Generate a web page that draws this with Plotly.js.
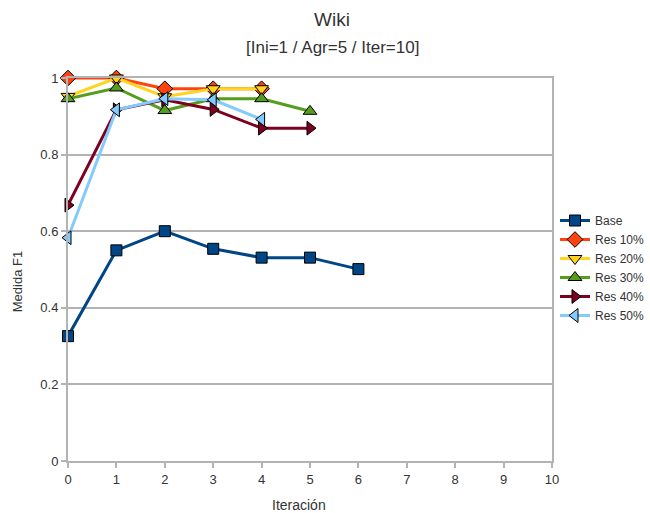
<!DOCTYPE html>
<html>
<head>
<meta charset="utf-8">
<script src="https://cdn.plot.ly/plotly-3.0.1.min.js"></script>
<style>
  html, body { margin: 0; padding: 0; background: #fff; }
  #chart { width: 650px; height: 513px; }
</style>
</head>
<body>
<div id="chart"></div>
<script>
// F1 per iteration for the base run and each reserve percentage
const iterBase = [0, 1, 2, 3, 4, 5, 6];
const base     = [0.326, 0.550, 0.600, 0.554, 0.531, 0.531, 0.501];

const iter10 = [0, 1, 2, 3, 4];
const res10  = [1.0, 1.0, 0.972, 0.972, 0.972];

const iter20 = [0, 1, 2, 3, 4];
const res20  = [0.952, 1.0, 0.951, 0.972, 0.972];

const iter30 = [0, 1, 2, 3, 4, 5];
const res30  = [0.946, 0.974, 0.915, 0.946, 0.946, 0.913];

const iter40 = [0, 1, 2, 3, 4, 5];
const res40  = [0.668, 0.917, 0.943, 0.918, 0.869, 0.869];

const iter50 = [0, 1, 2, 3, 4];
const res50  = [0.583, 0.917, 0.946, 0.943, 0.892];

const xTicks = [0, 1, 2, 3, 4, 5, 6, 7, 8, 9, 10];
const yTicks = [0, 0.2, 0.4, 0.6, 0.8, 1];

const W = 650, H = 513;
const M = { l: 68, r: 98, t: 77.5, b: 52 };
const plotW = W - M.l - M.r, plotH = H - M.t - M.b;

function series(name, x, y, color, symbol, size) {
  return {
    type: 'scatter', mode: 'lines+markers', name: name, x: x, y: y,
    line: { color: color, width: 3 },
    marker: { color: color, symbol: symbol, size: size,
              line: { color: '#000', width: 1 } },
    cliponaxis: false
  };
}

const data = [
  series('Base',    iterBase, base,  '#004586', 'square',         11),
  series('Res 10%', iter10,   res10, '#ff420e', 'diamond',        12),
  series('Res 20%', iter20,   res20, '#ffd320', 'triangle-down',  12),
  series('Res 30%', iter30,   res30, '#579d1c', 'triangle-up',    12),
  series('Res 40%', iter40,   res40, '#7e0021', 'triangle-right', 12),
  series('Res 50%', iter50,   res50, '#83caff', 'triangle-left',  12)
];

const txt = '#333';

const layout = {
  width: W, height: H,
  paper_bgcolor: '#fff', plot_bgcolor: '#fff',
  font: { family: '"Liberation Sans", Arial, sans-serif', size: 12, color: txt },
  margin: M,
  title: { text: 'Wiki', x: 332 / W, xanchor: 'center', xref: 'container',
           y: 1 - 19 / H, yref: 'container', yanchor: 'middle',
           font: { size: 19, color: txt } },
  annotations: [
    { // subtitle
      text: '[Ini=1 / Agr=5 / Iter=10]', xref: 'paper', yref: 'paper',
      x: (332 - M.l) / plotW, y: 1 + (M.t - 47) / plotH,
      xanchor: 'center', yanchor: 'middle',
      showarrow: false, font: { size: 17, color: txt } },
    { // x axis title
      text: 'Iteración', xref: 'paper', yref: 'paper',
      x: (299 - M.l) / plotW, y: -(505 - (H - M.b)) / plotH,
      xanchor: 'center', yanchor: 'middle',
      showarrow: false, font: { size: 14, color: txt } },
    { // y axis title
      text: 'Medida F1', xref: 'paper', yref: 'paper', textangle: -90,
      x: -(M.l - 17) / plotW, y: (H - M.b - 282) / plotH,
      xanchor: 'center', yanchor: 'middle',
      showarrow: false, font: { size: 13, color: txt } }
  ],
  xaxis: {
    range: [0, 10], tickvals: xTicks, ticktext: xTicks.map(String),
    showgrid: false, zeroline: false,
    showline: true, linecolor: '#b3b3b3', linewidth: 2, mirror: true,
    ticks: 'outside', ticklen: 5, tickcolor: '#b3b3b3', tickwidth: 2,
    tickfont: { size: 13, color: txt }
  },
  yaxis: {
    range: [0, 1], tickvals: yTicks, ticktext: yTicks.map(String),
    showgrid: true, gridcolor: '#b3b3b3', gridwidth: 2, zeroline: false,
    showline: true, linecolor: '#b3b3b3', linewidth: 2, mirror: true,
    ticks: 'outside', ticklen: 5, tickcolor: '#b3b3b3', tickwidth: 2,
    tickfont: { size: 13, color: txt }
  },
  legend: {
    x: 555 / W, xref: 'container', xanchor: 'left',
    y: 1 - 206 / H, yref: 'container', yanchor: 'top',
    font: { size: 12, color: txt },
    tracegroupgap: 0, itemwidth: 30, bgcolor: 'rgba(0,0,0,0)'
  },
  showlegend: true
};

Plotly.newPlot('chart', data, layout, { displayModeBar: false, staticPlot: true });
</script>
</body>
</html>
